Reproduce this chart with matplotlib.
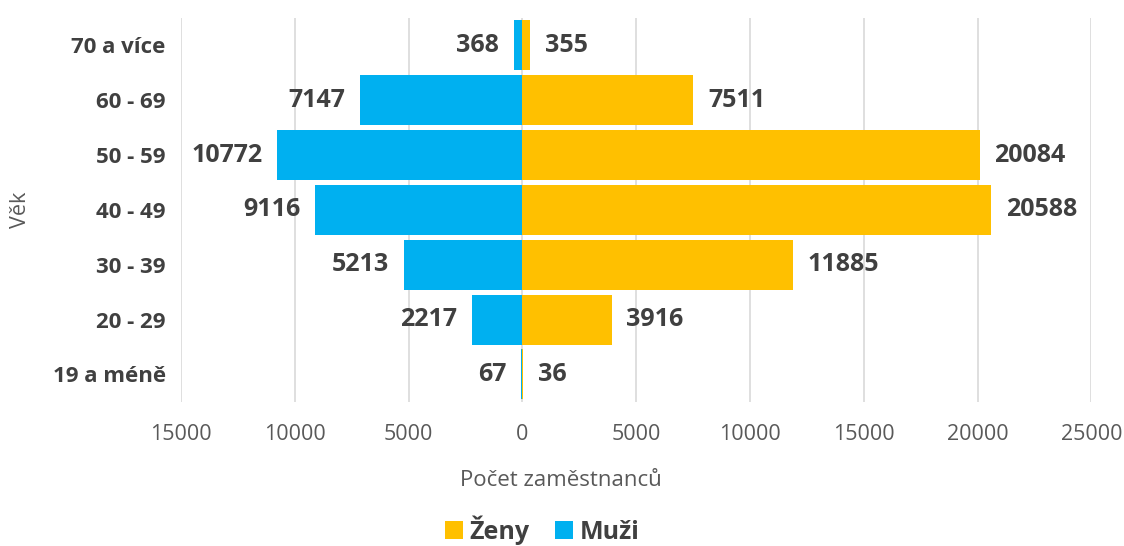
import numpy as np
import matplotlib.pyplot as plt
from matplotlib.ticker import FuncFormatter

# Věkové skupiny (odspodu nahoru)
kategorie = ["19 a méně", "20 - 29", "30 - 39", "40 - 49", "50 - 59", "60 - 69", "70 a více"]
muzi = [67, 2217, 5213, 9116, 10772, 7147, 368]
zeny = [36, 3916, 11885, 20588, 20084, 7511, 355]

modra = "#00B0F0"
zluta = "#FFC000"
text_barva = "#404040"
osa_barva = "#595959"

plt.rcParams["font.family"] = ["Open Sans", "DejaVu Sans"]

fig = plt.figure(figsize=(11.24, 5.46), dpi=100)
ax = fig.add_axes([0.161, 0.264, 0.810, 0.703])

y = np.arange(len(kategorie))
ax.barh(y, zeny, height=0.91, color=zluta, label="Ženy", zorder=3)
ax.barh(y, [-m for m in muzi], height=0.91, color=modra, label="Muži", zorder=4)

for i in y:
    ax.text(-muzi[i] - 650, i, str(muzi[i]), ha="right", va="center",
            fontsize=18, fontweight="bold", color=text_barva)
    ax.text(zeny[i] + 650, i, str(zeny[i]), ha="left", va="center",
            fontsize=18, fontweight="bold", color=text_barva)

ax.set_xlim(-15000, 25000)
ax.set_ylim(-0.5, len(kategorie) - 0.5)
ax.set_xticks(np.arange(-15000, 25001, 5000))
ax.xaxis.set_major_formatter(FuncFormatter(lambda v, p: f"{abs(int(v))}"))
ax.set_yticks(y)
ax.set_yticklabels(kategorie, fontsize=16, fontweight="bold", color=text_barva)
ax.tick_params(axis="x", labelsize=15.5, labelcolor=osa_barva, length=0, pad=16)
ax.tick_params(axis="y", length=0, pad=11)

ax.grid(axis="x", color="#D9D9D9", linewidth=1.2, zorder=0)
for s in ax.spines.values():
    s.set_visible(False)

fig.text(561 / 1124, 1 - 481 / 546, "Počet zaměstnanců", fontsize=16, color=osa_barva,
         ha="center", va="center")
fig.text(21 / 1124, 1 - 210 / 546, "Věk", fontsize=15.5, color=osa_barva,
         ha="center", va="center", rotation=90)

fig.legend(*ax.get_legend_handles_labels(), loc="center", bbox_to_anchor=(542 / 1124, 1 - 530 / 546),
           ncol=2, frameon=False, handlelength=0.75, handleheight=0.75, handletextpad=0.25,
           columnspacing=1.0, prop={"size": 18, "weight": "bold"}, labelcolor=text_barva)

fig.savefig("out.png", dpi=100)
